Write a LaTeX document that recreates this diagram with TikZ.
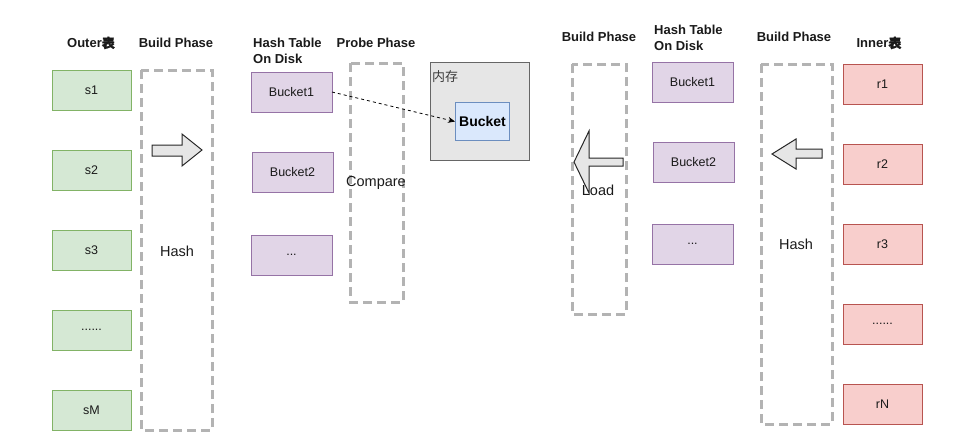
\documentclass[tikz,border=0pt]{standalone}
\usepackage{fontspec}
\setmainfont{Liberation Sans}
\newfontfamily\cjk{Noto Sans CJK SC}
\newfontfamily\cjkb{Noto Sans CJK SC}[FakeBold=1.5]
\usetikzlibrary{arrows.meta}
\definecolor{gfill}{HTML}{D5E8D4}\definecolor{gline}{HTML}{82B366}
\definecolor{pfill}{HTML}{E1D5E7}\definecolor{pline}{HTML}{9673A6}
\definecolor{rfill}{HTML}{F8CECC}\definecolor{rline}{HTML}{B85450}
\definecolor{bfill}{HTML}{DAE8FC}\definecolor{bline}{HTML}{6C8EBF}
\definecolor{mfill}{HTML}{E6E6E6}\definecolor{mline}{HTML}{666666}
\definecolor{dline}{HTML}{B3B3B3}
\definecolor{txt}{HTML}{1A1A1A}
\tikzset{
  cell/.style={draw, line width=1pt, inner sep=0pt, outer sep=0pt, minimum width=79pt, minimum height=40pt, anchor=north west, text=txt, font=\fontsize{12.5}{14}\selectfont},
  gcell/.style={cell, fill=gfill, draw=gline},
  pcell/.style={cell, fill=pfill, draw=pline, minimum width=81pt},
  rcell/.style={cell, fill=rfill, draw=rline},
  phasebox/.style={draw=dline, line width=3pt, dash pattern=on 9pt off 5pt},
  title/.style={font=\fontsize{13}{16.5}\selectfont\bfseries, text=txt, inner sep=0pt},
  plain/.style={font=\fontsize{14.5}{17}\selectfont, text=txt, inner sep=0pt},
  blockarrow/.style={draw=black!85, fill=mfill, line width=1pt, line join=miter},
}
\begin{document}
\begin{tikzpicture}[x=1pt,y=-1pt]
\useasboundingbox (0,0) rectangle (954,432);
% titles
\node[title] (tOuter) at (91,43) {Outer{\cjkb 表}};
\node[title] (tBuildL) at (176,43) {Build Phase};
\node[title, align=left, anchor=north west] (tHashL) at (253,37.5) {Hash Table\\On Disk};
\node[title] (tProbe) at (376,43) {Probe Phase};
\node[title] (tBuildR1) at (599,37) {Build Phase};
\node[title, align=left, anchor=north west] (tHashR) at (654,24.5) {Hash Table\\On Disk};
\node[title] (tBuildR2) at (794,37) {Build Phase};
\node[title] (tInner) at (879,43) {Inner{\cjkb 表}};

% dashed phase boxes
\draw[phasebox] (141,70) rectangle (212,430);
\draw[phasebox] (350,63) rectangle (403,302);
\draw[phasebox] (572,64) rectangle (626,314);
\draw[phasebox] (761,64) rectangle (832,424);

% outer table cells
\node[gcell] (s1) at (52,70) {s1};
\node[gcell] (s2) at (52,150) {s2};
\node[gcell] (s3) at (52,230) {s3};
\node[gcell] (sd) at (52,310) {......};
\node[gcell] (sM) at (52,390) {sM};

% inner table cells
\node[rcell] (r1) at (843,64) {r1};
\node[rcell] (r2) at (843,144) {r2};
\node[rcell] (r3) at (843,224) {r3};
\node[rcell] (rd) at (843,304) {......};
\node[rcell] (rN) at (843,384) {rN};

% hash table on disk (left)
\node[pcell] (lb1) at (251,72) {Bucket1};
\node[pcell] (lb2) at (252,152) {Bucket2};
\node[pcell] (lbd) at (251,235) {...};

% hash table on disk (right)
\node[pcell] (rb1) at (652,62) {Bucket1};
\node[pcell] (rb2) at (653,142) {Bucket2};
\node[pcell] (rbd) at (652,224) {...};

% memory
\node[draw=mline, fill=mfill, line width=1pt, minimum width=99pt, minimum height=98pt, anchor=north west, inner sep=0pt] (mem) at (430,62) {};
\node[anchor=north west, inner sep=0pt, text=txt!85, font=\fontsize{13}{15}\selectfont\cjk] (memlbl) at (432,70) {内存};
\node[draw=bline, fill=bfill, line width=1pt, minimum width=54pt, minimum height=38pt, anchor=north west, inner sep=0pt, font=\fontsize{14}{16}\selectfont\bfseries] (mb) at (455,102) {Bucket};

\draw[dashed, line width=0.8pt, -{Stealth[length=7pt,width=6pt]}] (lb1.east) -- (mb.west);

% block arrows
\draw[blockarrow] (152,145) -- (182,145) -- (182,134) -- (202,150) -- (182,166) -- (182,156) -- (152,156) -- cycle;
\draw[blockarrow] (772,154) -- (796,139) -- (796,149) -- (822,149) -- (822,158) -- (796,158) -- (796,169) -- cycle;
\draw[blockarrow] (574,162) -- (589,131) -- (589,158) -- (623,158) -- (623,166) -- (589,166) -- (589,193) -- cycle;

% phase texts
\node[plain] (hashL) at (177,251) {Hash};
\node[plain] (cmp) at (376,183) {Compare};
\node[plain] (load) at (598,190) {Load};
\node[plain] (hashR) at (796,244) {Hash};
\end{tikzpicture}
\end{document}
